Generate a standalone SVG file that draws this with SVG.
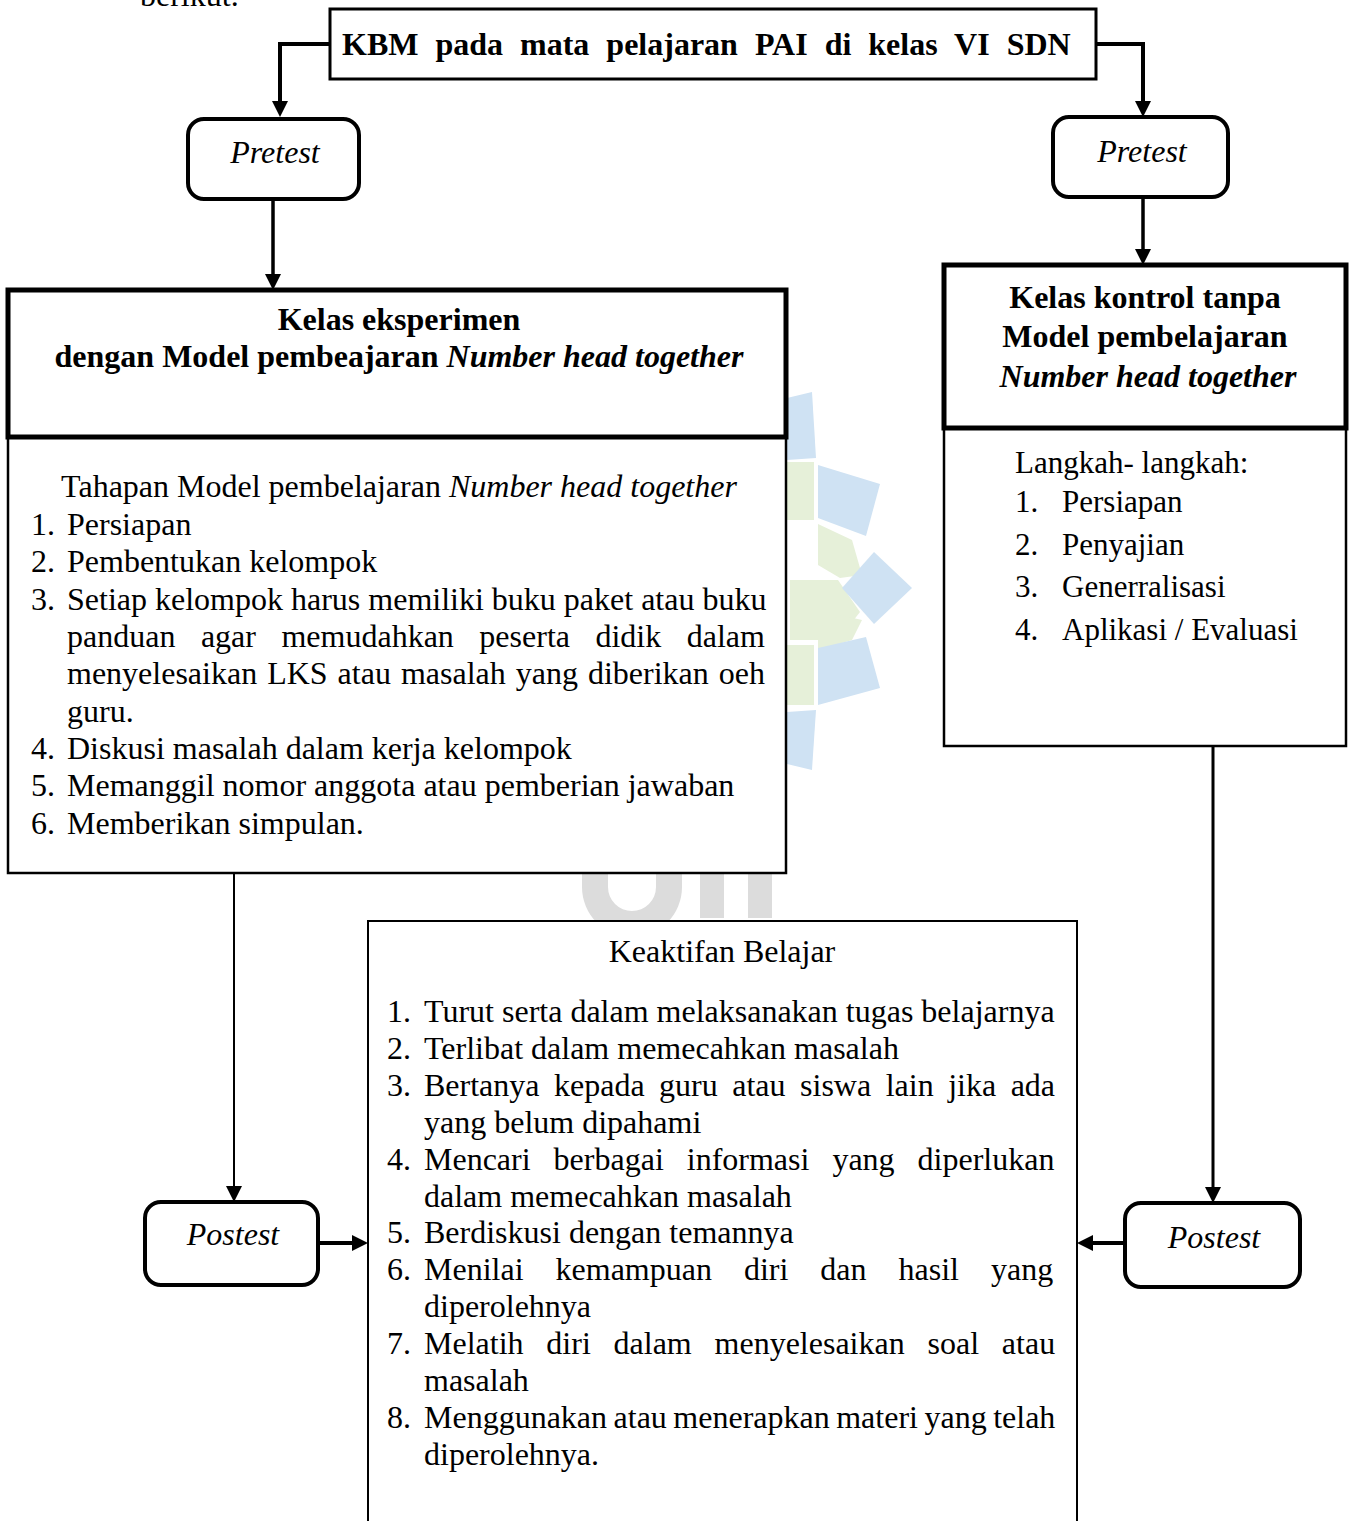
<svg xmlns="http://www.w3.org/2000/svg" width="1354" height="1521" viewBox="0 0 1354 1521">
<defs>
<style>
.t{font-family:"Liberation Serif","Times New Roman",serif;font-size:32px;fill:#000}
.b{font-weight:bold}
.i{font-style:italic}
.s31{font-size:31px}
.box{fill:#fff;stroke:#000}
.conn{fill:none;stroke:#000;stroke-linejoin:miter}
.wb{fill:#cfe2f3}
.wg{fill:#e6f0d9}
.wy{fill:#dcdcdc}
</style>
<marker id="ah" viewBox="0 0 16 16" markerWidth="16" markerHeight="16" markerUnits="userSpaceOnUse" refX="8" refY="8" orient="auto">
<path d="M0,0 L16,8 L0,16 z" fill="#000"/>
</marker>
</defs>
<rect width="1354" height="1521" fill="#fff"/>
<g id="watermark">
<polygon class="wb" points="787,398 812,392 816,458 787,460"/>
<polygon class="wb" points="818,465 880,484 866,536 818,518"/>
<polygon class="wg" points="787,462 814,462 814,520 787,520"/>
<polygon class="wg" points="818,524 852,540 862,575 840,578 818,565"/>
<polygon class="wg" points="790,580 838,580 860,612 838,640 790,640"/>
<polygon class="wg" points="818,650 852,640 862,620 840,615 818,628"/>
<polygon class="wg" points="787,645 814,645 814,705 787,705"/>
<polygon class="wb" points="842,588 874,552 912,588 874,624"/>
<polygon class="wb" points="818,648 866,637 880,688 818,705"/>
<polygon class="wb" points="787,712 816,710 812,770 787,764"/>
<path class="wy" d="M582,873 h26 v14 a24,24 0 0 0 48,0 v-14 h26 v14 a50,50 0 0 1 -100,0 z"/>
<rect class="wy" x="700" y="873" width="24" height="45"/>
<rect class="wy" x="748" y="873" width="24" height="45"/>
</g>
<text class="t" x="140" y="6">berikut.</text>
<g id="connectors">
<path class="conn" stroke-width="4" d="M330,44 H280 V109" marker-end="url(#ah)"/>
<path class="conn" stroke-width="4" d="M1096,44 H1143 V109" marker-end="url(#ah)"/>
<path class="conn" stroke-width="3.5" d="M273,200 V282" marker-end="url(#ah)"/>
<path class="conn" stroke-width="3.5" d="M1143,198 V257" marker-end="url(#ah)"/>
<path class="conn" stroke-width="2" d="M234,874 V1194" marker-end="url(#ah)"/>
<path class="conn" stroke-width="3" d="M1213,747 V1195" marker-end="url(#ah)"/>
<path class="conn" stroke-width="4" d="M318,1243 H360" marker-end="url(#ah)"/>
<path class="conn" stroke-width="4" d="M1125,1243 H1085" marker-end="url(#ah)"/>
</g>
<g id="node-kbm">
<rect class="box" x="330" y="9" width="766" height="70" stroke-width="3"/>
<text class="t b" x="342" y="55" word-spacing="9">KBM pada mata pelajaran PAI di kelas VI SDN</text>
</g>
<g id="node-pretest-left">
<rect class="box" x="188" y="119" width="171" height="80" rx="16" stroke-width="4"/>
<text class="t i" x="275" y="163" text-anchor="middle">Pretest</text>
</g>
<g id="node-pretest-right">
<rect class="box" x="1053" y="117" width="175" height="80" rx="16" stroke-width="4"/>
<text class="t i" x="1142" y="162" text-anchor="middle">Pretest</text>
</g>
<g id="node-eksperimen">
<rect class="box" x="8" y="437" width="778" height="436" stroke-width="2.5"/>
<rect class="box" x="8" y="290" width="778" height="147" stroke-width="5"/>
<text class="t b" x="399" y="330" text-anchor="middle">Kelas eksperimen</text>
<text class="t b" x="399" y="367" text-anchor="middle">dengan Model pembeajaran <tspan class="i">Number head together</tspan></text>
<text class="t" x="399" y="497" text-anchor="middle">Tahapan Model pembelajaran <tspan class="i">Number head together</tspan></text>
<text class="t" x="31" y="535">1.</text><text class="t" x="67" y="535">Persiapan</text>
<text class="t" x="31" y="572">2.</text><text class="t" x="67" y="572">Pembentukan kelompok</text>
<text class="t" x="31" y="610">3.</text><text class="t" x="67" y="610">Setiap kelompok harus memiliki buku paket atau buku</text>
<text class="t" x="67" y="647" word-spacing="17.5">panduan agar memudahkan peserta didik dalam</text>
<text class="t" x="67" y="684" word-spacing="2">menyelesaikan LKS atau masalah yang diberikan oeh</text>
<text class="t" x="67" y="722">guru.</text>
<text class="t" x="31" y="759">4.</text><text class="t" x="67" y="759">Diskusi masalah dalam kerja kelompok</text>
<text class="t" x="31" y="796">5.</text><text class="t" x="67" y="796">Memanggil nomor anggota atau pemberian jawaban</text>
<text class="t" x="31" y="834">6.</text><text class="t" x="67" y="834">Memberikan simpulan.</text>
</g>
<g id="node-kontrol">
<rect class="box" x="944" y="428" width="402" height="318" stroke-width="2.5"/>
<rect class="box" x="944" y="265" width="402" height="163" stroke-width="5"/>
<text class="t b" x="1145" y="308" text-anchor="middle">Kelas kontrol tanpa</text>
<text class="t b" x="1145" y="347" text-anchor="middle">Model pembelajaran</text>
<text class="t b i" x="1148" y="387" text-anchor="middle">Number head together</text>
<text class="t s31" x="1015" y="473">Langkah- langkah:</text>
<text class="t s31" x="1015" y="512">1.</text><text class="t s31" x="1062" y="512">Persiapan</text>
<text class="t s31" x="1015" y="555">2.</text><text class="t s31" x="1062" y="555">Penyajian</text>
<text class="t s31" x="1015" y="597">3.</text><text class="t s31" x="1062" y="597">Generralisasi</text>
<text class="t s31" x="1015" y="640">4.</text><text class="t s31" x="1062" y="640">Aplikasi / Evaluasi</text>
</g>
<g id="node-keaktifan">
<rect class="box" x="368" y="921" width="709" height="640" stroke-width="2"/>
<text class="t" x="722" y="962" text-anchor="middle">Keaktifan Belajar</text>
<text class="t" x="387" y="1022">1.</text><text class="t" x="424" y="1022">Turut serta dalam melaksanakan tugas belajarnya</text>
<text class="t" x="387" y="1059">2.</text><text class="t" x="424" y="1059">Terlibat dalam memecahkan masalah</text>
<text class="t" x="387" y="1096">3.</text><text class="t" x="424" y="1096" word-spacing="6.5">Bertanya kepada guru atau siswa lain jika ada</text>
<text class="t" x="424" y="1133">yang belum dipahami</text>
<text class="t" x="387" y="1170">4.</text><text class="t" x="424" y="1170" word-spacing="15">Mencari berbagai informasi yang diperlukan</text>
<text class="t" x="424" y="1207">dalam memecahkan masalah</text>
<text class="t" x="387" y="1243">5.</text><text class="t" x="424" y="1243">Berdiskusi dengan temannya</text>
<text class="t" x="387" y="1280">6.</text><text class="t" x="424" y="1280" word-spacing="24">Menilai kemampuan diri dan hasil yang</text>
<text class="t" x="424" y="1317">diperolehnya</text>
<text class="t" x="387" y="1354">7.</text><text class="t" x="424" y="1354" word-spacing="14.8">Melatih diri dalam menyelesaikan soal atau</text>
<text class="t" x="424" y="1391">masalah</text>
<text class="t" x="387" y="1428">8.</text><text class="t" x="424" y="1428" word-spacing="-1.5">Menggunakan atau menerapkan materi yang telah</text>
<text class="t" x="424" y="1465">diperolehnya.</text>
</g>
<g id="node-postest-left">
<rect class="box" x="145" y="1202" width="173" height="83" rx="16" stroke-width="4"/>
<text class="t i" x="233" y="1245" text-anchor="middle">Postest</text>
</g>
<g id="node-postest-right">
<rect class="box" x="1125" y="1203" width="175" height="84" rx="16" stroke-width="4"/>
<text class="t i" x="1214" y="1248" text-anchor="middle">Postest</text>
</g>
</svg>
